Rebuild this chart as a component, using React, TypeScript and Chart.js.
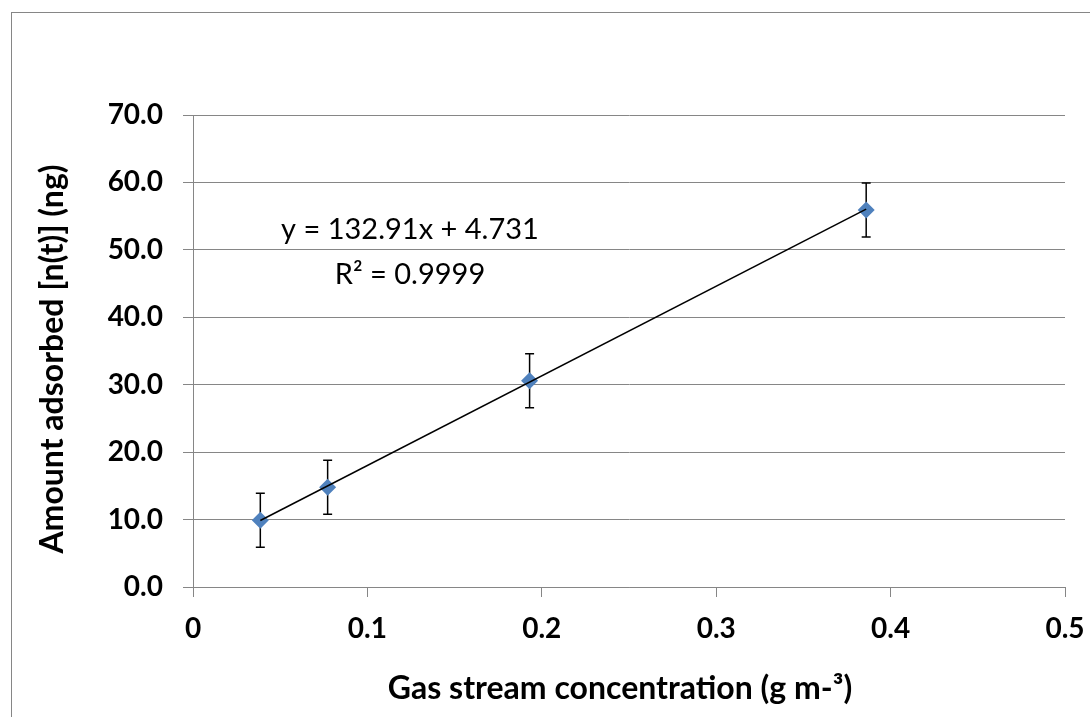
import React, { useEffect, useRef } from "react";
import { Chart, registerables } from "chart.js";

Chart.register(...registerables);

const xValues = [0.0386, 0.0772, 0.193, 0.386];
const yValues = [9.9, 14.8, 30.6, 55.9];
const yErrors = [4.0, 4.0, 4.0, 4.0];
const trendSlope = 132.91;
const trendIntercept = 4.731;
const equationText = "y = 132.91x + 4.731";
const r2Text = "R² = 0.9999";
const xTitle = "Gas stream concentration (g m-³)";
const yTitle = "Amount adsorbed [n(t)] (ng)";
const xTicks = [0, 0.1, 0.2, 0.3, 0.4, 0.5];
const yTicks = [0, 10, 20, 30, 40, 50, 60, 70];

const FONT = "Lato, 'Open Sans', sans-serif";
const GRID = "#868686";

export default function App() {
  const ref = useRef<HTMLCanvasElement | null>(null);

  useEffect(() => {
    if (!ref.current) return;
    const trendX = [xValues[0], xValues[xValues.length - 1]];
    const trendData = trendX.map((x) => ({ x, y: trendSlope * x + trendIntercept }));
    const points = xValues.map((x, i) => ({ x, y: yValues[i] }));

    const decor = {
      id: "decor",
      beforeDraw(chart: any) {
        const { ctx } = chart;
        ctx.save();
        ctx.fillStyle = "#ffffff";
        ctx.fillRect(0, 0, chart.width, chart.height);
        ctx.strokeStyle = GRID;
        ctx.lineWidth = 1;
        ctx.strokeRect(11.5, 12.5, 1200, 800);
        ctx.restore();
      },
      beforeDatasetsDraw(chart: any) {
        const { ctx, scales } = chart;
        const xs = scales.x;
        const ys = scales.y;
        ctx.save();
        ctx.strokeStyle = "#000000";
        ctx.lineWidth = 1.5;
        xValues.forEach((x, i) => {
          const px = xs.getPixelForValue(x);
          const top = ys.getPixelForValue(yValues[i] + yErrors[i]);
          const bot = ys.getPixelForValue(yValues[i] - yErrors[i]);
          ctx.beginPath();
          ctx.moveTo(px, top);
          ctx.lineTo(px, bot);
          ctx.moveTo(px - 4.5, top);
          ctx.lineTo(px + 4.5, top);
          ctx.moveTo(px - 4.5, bot);
          ctx.lineTo(px + 4.5, bot);
          ctx.stroke();
        });
        ctx.restore();
      },
      afterDraw(chart: any) {
        const { ctx } = chart;
        ctx.save();
        ctx.fillStyle = "#000000";
        ctx.textBaseline = "alphabetic";
        ctx.textAlign = "center";
        ctx.font = `29px ${FONT}`;
        ctx.fillText(equationText, 410, 239);
        ctx.fillText(r2Text, 410, 284);
        ctx.font = `bold 32px ${FONT}`;
        ctx.fillText(xTitle, 620, 699);
        ctx.translate(63, 359);
        ctx.rotate(-Math.PI / 2);
        ctx.fillText(yTitle, 0, 0);
        ctx.restore();
      },
    };

    const chart = new Chart(ref.current, {
      type: "scatter",
      data: {
        datasets: [
          {
            type: "line",
            label: "trend",
            data: trendData,
            borderColor: "#000000",
            borderWidth: 1.5,
            pointRadius: 0,
            fill: false,
            order: 0,
          } as any,
          {
            label: "data",
            data: points,
            pointStyle: "rectRot",
            pointRadius: 8.5,
            pointBackgroundColor: "#4F81BD",
            pointBorderColor: "#4F81BD",
            pointBorderWidth: 0,
            order: 1,
          } as any,
        ],
      },
      options: {
        responsive: false,
        animation: false,
        devicePixelRatio: 1,
        layout: { padding: { top: 115, right: 25, left: 0, bottom: 0 } },
        plugins: { legend: { display: false }, tooltip: { enabled: false } },
        scales: {
          x: {
            type: "linear",
            min: 0,
            max: 0.5,
            afterFit(scale: any) {
              scale.height = 130;
              scale.paddingLeft = 0;
              scale.paddingRight = 0;
            },
            afterBuildTicks(scale: any) {
              scale.ticks = xTicks.map((v) => ({ value: v }));
            },
            ticks: {
              color: "#000000",
              padding: 15,
              font: { family: FONT, size: 28, weight: "bold" },
              callback: (v: any) => String(v),
              maxRotation: 0,
            },
            grid: { drawOnChartArea: false, drawTicks: true, tickLength: 10, color: GRID, lineWidth: 1 },
            border: { display: true, color: GRID, width: 1 },
          },
          y: {
            type: "linear",
            min: 0,
            max: 70,
            afterFit(scale: any) {
              scale.width = 193;
              scale.paddingTop = 0;
              scale.paddingBottom = 0;
            },
            afterBuildTicks(scale: any) {
              scale.ticks = yTicks.map((v) => ({ value: v }));
            },
            ticks: {
              color: "#000000",
              padding: 20,
              font: { family: FONT, size: 28, weight: "bold" },
              callback: (v: any) => Number(v).toFixed(1),
            },
            grid: { drawOnChartArea: true, drawTicks: true, tickLength: 10, color: GRID, lineWidth: 1 },
            border: { display: true, color: GRID, width: 1 },
          },
        },
      },
      plugins: [decor],
    });
    return () => chart.destroy();
  }, []);

  return (
    <div style={{ position: "fixed", left: 0, top: 0, width: 1090, height: 717, background: "#fff" }}>
      <canvas ref={ref} width={1090} height={717} />
    </div>
  );
}
